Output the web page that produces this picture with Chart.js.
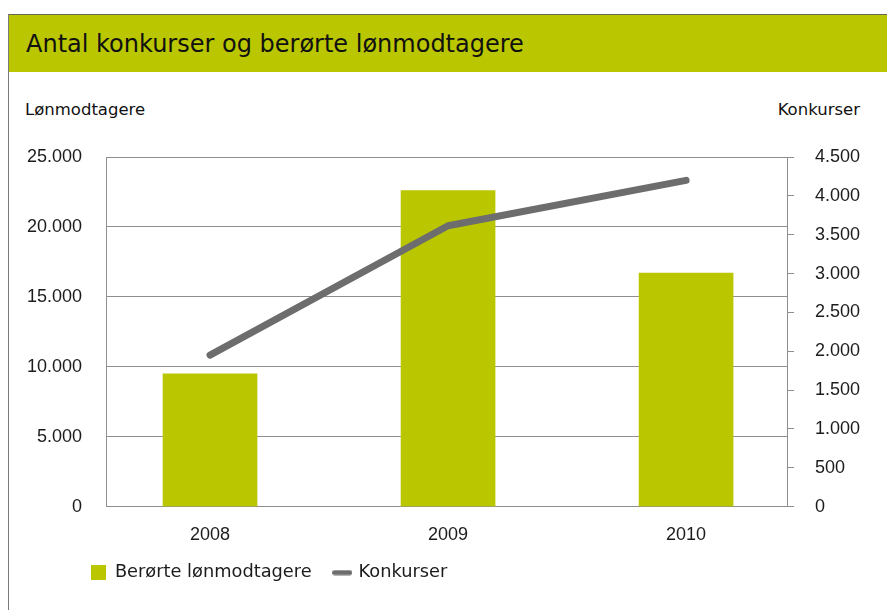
<!DOCTYPE html>
<html>
<head>
<meta charset="utf-8">
<script src="https://cdn.jsdelivr.net/npm/chart.js@4.4.1/dist/chart.umd.min.js"></script>
<style>
  html, body { margin: 0; padding: 0; background: #fff; }
  body { width: 887px; height: 610px; position: relative; overflow: hidden; }
  #frameTop { position: absolute; left: 8px; top: 14px; width: 879px; height: 1px; background: #66665a; }
  #frameLeft { position: absolute; left: 8px; top: 14px; width: 1px; height: 596px; background: #7a7a7a; }
  #band { position: absolute; left: 9px; top: 15px; width: 878px; height: 57px; background: #bac600; }
  #title { position: absolute; left: 26px; top: 32px; font: 24px/24px "DejaVu Sans", sans-serif; color: #111; white-space: nowrap; }
  .axisTitle { position: absolute; top: 102px; font: 16.5px/16.5px "DejaVu Sans", sans-serif; color: #111; white-space: nowrap; }
  #leftTitle { left: 25px; }
  #rightTitle { right: 27px; }
  #c { position: absolute; left: 0; top: 0; }
</style>
</head>
<body>
<div id="frameTop"></div>
<div id="frameLeft"></div>
<div id="band"></div>
<div id="title">Antal konkurser og berørte lønmodtagere</div>
<div class="axisTitle" id="leftTitle">Lønmodtagere</div>
<div class="axisTitle" id="rightTitle">Konkurser</div>
<canvas id="c" width="887" height="610"></canvas>
<script>
// ---- data ----
const categories = ['2008', '2009', '2010'];
const lonmodtagere = [9500, 22600, 16700];   // Berørte lønmodtagere (left axis)
const konkurser = [1950, 3615, 4200];        // Konkurser (right axis)
const seriesNames = ['Berørte lønmodtagere', 'Konkurser'];
const leftAxis = { min: 0, max: 25000, step: 5000 };
const rightAxis = { min: 0, max: 4500, step: 500 };

const GREEN = '#bac600';
const GREY = '#6d6d6d';
const GRID = '#8e8e8e';
const TXT = '#1c1c1c';

function fmt(v) { return String(v).replace(/\B(?=(\d{3})+(?!\d))/g, '.'); }

// legend symbols
const sq = document.createElement('canvas'); sq.width = 15; sq.height = 15;
(function(){ const g = sq.getContext('2d'); g.fillStyle = GREEN; g.fillRect(0,0,15,15); })();
const ln = document.createElement('canvas'); ln.width = 20; ln.height = 6;
(function(){ const g = ln.getContext('2d'); g.strokeStyle = GREY; g.lineWidth = 5; g.lineCap = 'round';
  g.beginPath(); g.moveTo(2.5,3); g.lineTo(17.5,3); g.stroke(); })();
const legendSymbols = [sq, ln];

const tickFont = { family: '"Liberation Sans", Arial, sans-serif', size: 18 };
const LEGEND_PAD = 23;

// moves the legend box to where the reference puts it
const legendPlacer = {
  id: 'legendPlacer',
  afterLayout(chart) {
    const l = chart.legend;
    if (!l) return;
    const dx = 91 - LEGEND_PAD, dy = -11;
    l.left += dx; l.right += dx; l.top += dy; l.bottom += dy;
  }
};

new Chart(document.getElementById('c'), {
  type: 'bar',
  data: {
    datasets: [
      {
        type: 'bar',
        label: seriesNames[0],
        data: categories.map((c, i) => ({ x: i, y: lonmodtagere[i] })),
        backgroundColor: GREEN,
        borderWidth: 0,
        barThickness: 94,
        yAxisID: 'y',
        order: 2
      },
      {
        type: 'line',
        label: seriesNames[1],
        data: categories.map((c, i) => ({ x: i, y: konkurser[i] })),
        borderColor: GREY,
        backgroundColor: GREY,
        borderWidth: 7,
        pointRadius: 0,
        borderCapStyle: 'round',
        borderJoinStyle: 'round',
        tension: 0,
        yAxisID: 'y1',
        order: 1
      }
    ]
  },
  plugins: [legendPlacer],
  options: {
    responsive: false,
    devicePixelRatio: 1,
    animation: false,
    layout: { padding: { top: 157, left: 0, right: 0, bottom: 7.5 } },
    plugins: {
      tooltip: { enabled: false },
      title: { display: false },
      legend: {
        position: 'bottom',
        align: 'start',
        labels: {
          usePointStyle: true,
          boxWidth: 15,
          boxHeight: 15,
          padding: LEGEND_PAD,
          color: TXT,
          font: { family: '"DejaVu Sans", sans-serif', size: 17.8 },
          sort: (a, b) => a.datasetIndex - b.datasetIndex,
          generateLabels(chart) {
            const items = Chart.defaults.plugins.legend.labels.generateLabels(chart);
            items.forEach(it => { it.pointStyle = legendSymbols[it.datasetIndex]; });
            return items;
          }
        }
      }
    },
    scales: {
      x: {
        type: 'linear',
        min: -0.437,
        max: 2.424,
        offset: false,
        grid: { display: false, offset: false },
        border: { display: true, color: GRID, width: 1 },
        afterBuildTicks(scale) { scale.ticks = categories.map((c, i) => ({ value: i })); },
        afterFit(scale) { scale.height = 45; },
        ticks: {
          padding: 10,
          color: TXT,
          font: tickFont,
          maxRotation: 0,
          callback: (v) => categories[v]
        }
      },
      y: {
        position: 'left',
        min: leftAxis.min,
        max: leftAxis.max,
        grid: { color: GRID, lineWidth: 1, drawTicks: false },
        border: { display: true, color: GRID, width: 1 },
        afterFit(scale) { scale.width = 106; },
        ticks: {
          stepSize: leftAxis.step,
          padding: 24,
          color: TXT,
          font: tickFont,
          callback: (v) => fmt(v)
        }
      },
      y1: {
        position: 'right',
        min: rightAxis.min,
        max: rightAxis.max,
        grid: { drawOnChartArea: false, drawTicks: true, tickLength: 7, color: GRID, lineWidth: 1 },
        border: { display: true, color: GRID, width: 1 },
        afterFit(scale) { scale.width = 100; },
        ticks: {
          stepSize: rightAxis.step,
          padding: 21,
          color: TXT,
          font: tickFont,
          callback: (v) => fmt(v)
        }
      }
    }
  }
});
</script>
</body>
</html>
